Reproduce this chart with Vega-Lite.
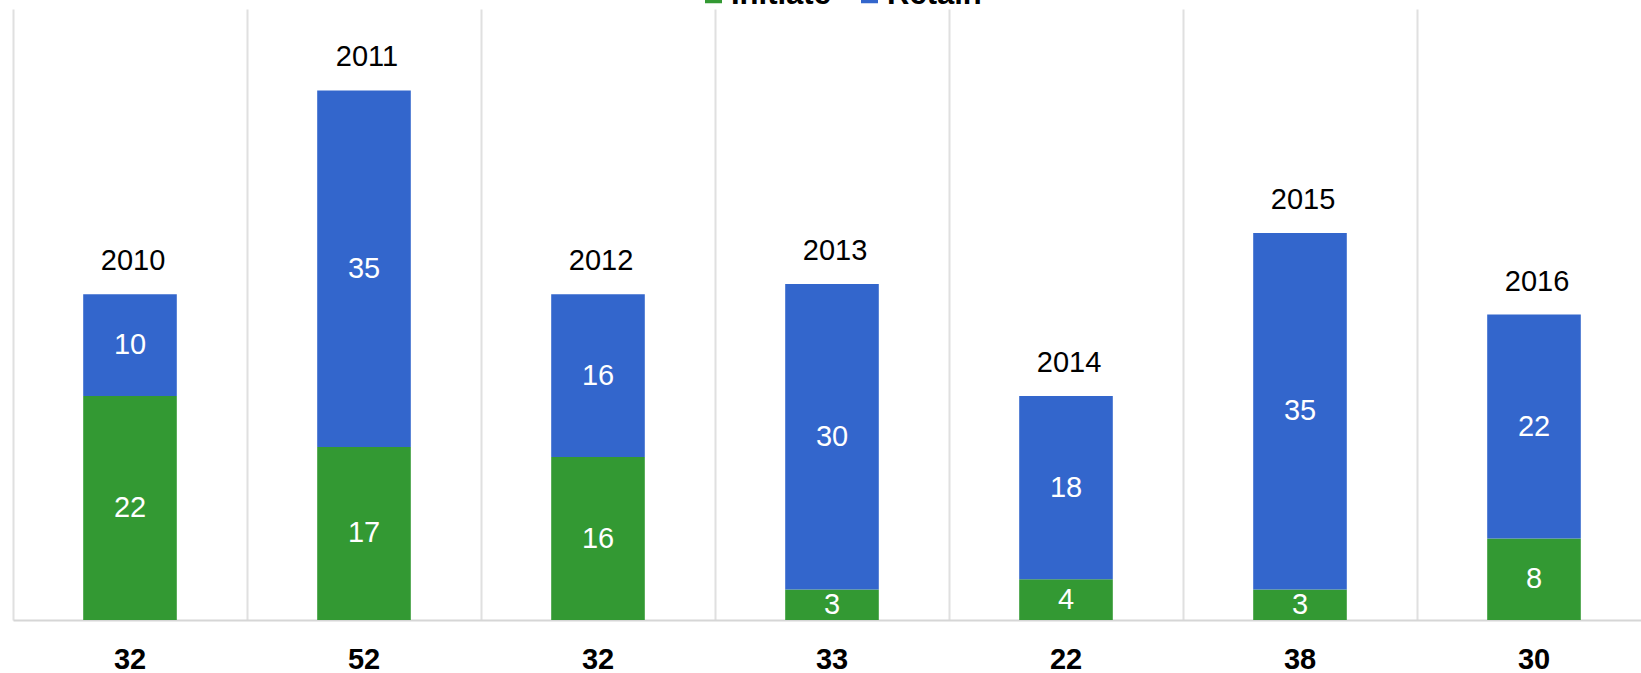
{
  "$schema": "https://vega.github.io/schema/vega-lite/v6.json",
  "width": 1638,
  "height": 611,
  "autosize": {"type": "none"},
  "padding": {"left": 13, "top": 9, "right": 0, "bottom": 53},
  "background": "white",
  "config": {"view": {"stroke": null}, "font": "Liberation Sans"},
  "data": {
    "values": [
      {"year": "2010", "type": "Initiate", "value": 22},
      {"year": "2010", "type": "Retain", "value": 10},
      {"year": "2011", "type": "Initiate", "value": 17},
      {"year": "2011", "type": "Retain", "value": 35},
      {"year": "2012", "type": "Initiate", "value": 16},
      {"year": "2012", "type": "Retain", "value": 16},
      {"year": "2013", "type": "Initiate", "value": 3},
      {"year": "2013", "type": "Retain", "value": 30},
      {"year": "2014", "type": "Initiate", "value": 4},
      {"year": "2014", "type": "Retain", "value": 18},
      {"year": "2015", "type": "Initiate", "value": 3},
      {"year": "2015", "type": "Retain", "value": 35},
      {"year": "2016", "type": "Initiate", "value": 8},
      {"year": "2016", "type": "Retain", "value": 22}
    ]
  },
  "encoding": {
    "x": {
      "field": "year",
      "type": "nominal",
      "scale": {"paddingInner": 0, "paddingOuter": 0},
      "axis": {
        "title": null,
        "labels": false,
        "ticks": false,
        "grid": true,
        "bandPosition": 0,
        "gridColor": "#e0e0e0",
        "gridWidth": 2,
        "domainColor": "#d6d6d6",
        "domainWidth": 2
      }
    }
  },
  "layer": [
    {
      "mark": {"type": "bar", "width": {"band": 0.4}},
      "encoding": {
        "y": {"field": "value", "type": "quantitative", "stack": "zero", "scale": {"domain": [0, 60]}, "axis": null},
        "order": {"field": "type", "sort": "ascending"},
        "color": {
          "field": "type",
          "type": "nominal",
          "scale": {"domain": ["Initiate", "Retain"], "range": ["#339933", "#3366CC"]},
          "legend": {
            "orient": "none",
            "legendX": 685,
            "legendY": -30,
            "direction": "horizontal",
            "title": null,
            "symbolType": "square",
            "symbolSize": 289,
            "symbolStrokeWidth": 0,
            "labelFontSize": 31,
            "labelFontWeight": "bold",
            "labelColor": "#000000",
            "labelOffset": 2,
            "columnPadding": 23,
            "padding": 0
          }
        }
      }
    },
    {
      "transform": [
        {"stack": "value", "groupby": ["year"], "sort": [{"field": "type"}], "as": ["v0", "v1"]},
        {"calculate": "(datum.v0 + datum.v1) / 2", "as": "mid"}
      ],
      "mark": {"type": "text", "color": "white", "fontSize": 29, "baseline": "middle"},
      "encoding": {
        "y": {"field": "mid", "type": "quantitative"},
        "text": {"field": "value", "type": "quantitative"}
      }
    },
    {
      "transform": [
        {"aggregate": [{"op": "sum", "field": "value", "as": "total"}], "groupby": ["year"]}
      ],
      "layer": [
        {
          "mark": {"type": "text", "fontSize": 29, "baseline": "alphabetic", "dy": -24, "dx": 3, "color": "#000000"},
          "encoding": {
            "y": {"field": "total", "type": "quantitative"},
            "text": {"field": "year", "type": "nominal"}
          }
        },
        {
          "mark": {"type": "text", "fontSize": 29, "fontWeight": "bold", "baseline": "alphabetic", "dy": 49, "color": "#000000"},
          "encoding": {
            "y": {"datum": 0},
            "text": {"field": "total", "type": "quantitative"}
          }
        }
      ]
    }
  ]
}
